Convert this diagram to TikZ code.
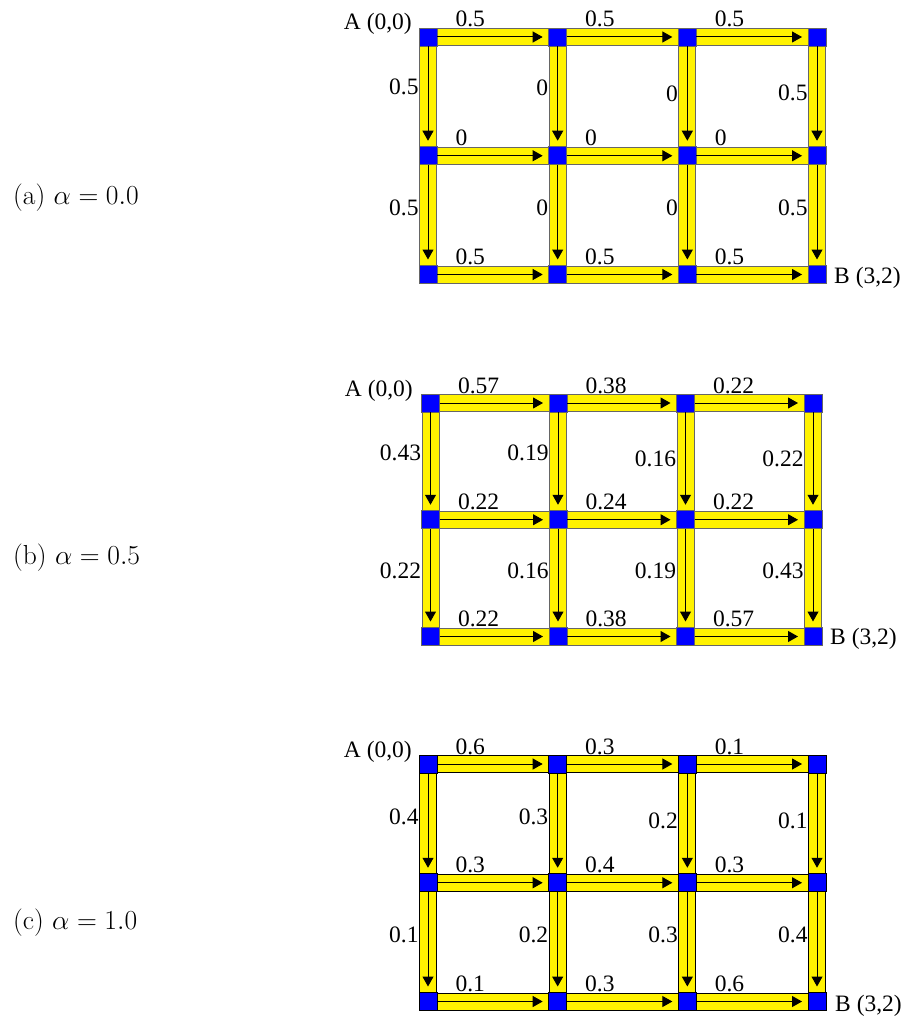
\documentclass[tikz,border=0pt]{standalone}
\usepackage{fix-cm}
\usepackage{fontspec}
\newfontfamily\gridfont{Liberation Serif}
\usetikzlibrary{arrows.meta,backgrounds}

\begin{document}
\begin{tikzpicture}[x=1pt, y=-1pt]
% Flow grids from A to B for three values of alpha
\providecommand{\gridBandColor}{yellow}
\providecommand{\gridCellColor}{blue}
\providecommand{\gridEdgeColor}{black!60}
\providecommand{\gridLabelSize}{\fontsize{23.5}{28}\selectfont}
\tikzset{
  cell/.style={draw=\gridEdgeColor, fill=\gridCellColor, line width=0.8pt, minimum size=18pt, inner sep=0pt, outer sep=0pt},
  band/.style={draw=\gridEdgeColor, line width=1pt, double=\gridBandColor, double distance=16pt},
  flow/.style={draw=black, line width=1pt, -{Triangle[length=10pt,width=11pt]}, shorten >=6pt},
  hlab/.style={font=\gridfont\gridLabelSize, pos=0, anchor=base west, xshift=18pt, yshift=10pt, inner sep=0pt},
  vlab/.style={font=\gridfont\gridLabelSize, anchor=east, xshift=-9pt, inner sep=0pt},
  corner/.style={font=\gridfont\gridLabelSize, inner sep=0pt},
  caption/.style={font=\fontsize{27.5}{33}\selectfont, anchor=west, inner sep=0pt}
}
\useasboundingbox (0,0) rectangle (908,1019);

% (a) alpha = 0.0
\begin{scope}[shift={(428,37)}, x=129.67pt, y=-118.75pt]
  % Grid points
  \node[cell] (a00) at (0,0) {}; \node[cell] (a10) at (1,0) {}; \node[cell] (a20) at (2,0) {}; \node[cell] (a30) at (3,0) {};
  \node[cell] (a01) at (0,1) {}; \node[cell] (a11) at (1,1) {}; \node[cell] (a21) at (2,1) {}; \node[cell] (a31) at (3,1) {};
  \node[cell] (a02) at (0,2) {}; \node[cell] (a12) at (1,2) {}; \node[cell] (a22) at (2,2) {}; \node[cell] (a32) at (3,2) {};
  % Bands
  \begin{pgfonlayer}{background}
    \draw[band] (a00) -- (a30);
    \draw[band] (a01) -- (a31);
    \draw[band] (a02) -- (a32);
    \draw[band] (a00) -- (a02);
    \draw[band] (a10) -- (a12);
    \draw[band] (a20) -- (a22);
    \draw[band] (a30) -- (a32);
  \end{pgfonlayer}
  % Horizontal flows
  \draw[flow] (a00) -- node[hlab] {0.5} (a10);
  \draw[flow] (a10) -- node[hlab] {0.5} (a20);
  \draw[flow] (a20) -- node[hlab] {0.5} (a30);
  \draw[flow] (a01) -- node[hlab] {0} (a11);
  \draw[flow] (a11) -- node[hlab] {0} (a21);
  \draw[flow] (a21) -- node[hlab] {0} (a31);
  \draw[flow] (a02) -- node[hlab] {0.5} (a12);
  \draw[flow] (a12) -- node[hlab] {0.5} (a22);
  \draw[flow] (a22) -- node[hlab] {0.5} (a32);
  % Vertical flows
  \draw[flow] (a00) -- node[vlab, pos=.41] {0.5} (a01);
  \draw[flow] (a10) -- node[vlab, pos=.41] {0} (a11);
  \draw[flow] (a20) -- node[vlab, pos=.47] {0} (a21);
  \draw[flow] (a30) -- node[vlab, pos=.47] {0.5} (a31);
  \draw[flow] (a01) -- node[vlab, pos=.43] {0.5} (a02);
  \draw[flow] (a11) -- node[vlab, pos=.43] {0} (a12);
  \draw[flow] (a21) -- node[vlab, pos=.43] {0} (a22);
  \draw[flow] (a31) -- node[vlab, pos=.43] {0.5} (a32);
  % End points
  \node[corner, anchor=base east] (aA) at ([xshift=-16pt, yshift=7.5pt]a00.center) {A (0,0)};
  \node[corner, anchor=base west] (aB) at ([xshift=17pt, yshift=-8.5pt]a32.center) {B (3,2)};
\end{scope}
\node[caption] (capa) at (13,198) {(a) $\alpha = 0.0$};

% (b) alpha = 0.5
\begin{scope}[shift={(430.5,403)}, x=127.5pt, y=-116.75pt]
  % Grid points
  \node[cell] (b00) at (0,0) {}; \node[cell] (b10) at (1,0) {}; \node[cell] (b20) at (2,0) {}; \node[cell] (b30) at (3,0) {};
  \node[cell] (b01) at (0,1) {}; \node[cell] (b11) at (1,1) {}; \node[cell] (b21) at (2,1) {}; \node[cell] (b31) at (3,1) {};
  \node[cell] (b02) at (0,2) {}; \node[cell] (b12) at (1,2) {}; \node[cell] (b22) at (2,2) {}; \node[cell] (b32) at (3,2) {};
  % Bands
  \begin{pgfonlayer}{background}
    \draw[band] (b00) -- (b30);
    \draw[band] (b01) -- (b31);
    \draw[band] (b02) -- (b32);
    \draw[band] (b00) -- (b02);
    \draw[band] (b10) -- (b12);
    \draw[band] (b20) -- (b22);
    \draw[band] (b30) -- (b32);
  \end{pgfonlayer}
  % Horizontal flows
  \draw[flow] (b00) -- node[hlab] {0.57} (b10);
  \draw[flow] (b10) -- node[hlab] {0.38} (b20);
  \draw[flow] (b20) -- node[hlab] {0.22} (b30);
  \draw[flow] (b01) -- node[hlab] {0.22} (b11);
  \draw[flow] (b11) -- node[hlab] {0.24} (b21);
  \draw[flow] (b21) -- node[hlab] {0.22} (b31);
  \draw[flow] (b02) -- node[hlab] {0.22} (b12);
  \draw[flow] (b12) -- node[hlab] {0.38} (b22);
  \draw[flow] (b22) -- node[hlab] {0.57} (b32);
  % Vertical flows
  \draw[flow] (b00) -- node[vlab, pos=.41] {0.43} (b01);
  \draw[flow] (b10) -- node[vlab, pos=.41] {0.19} (b11);
  \draw[flow] (b20) -- node[vlab, pos=.47] {0.16} (b21);
  \draw[flow] (b30) -- node[vlab, pos=.47] {0.22} (b31);
  \draw[flow] (b01) -- node[vlab, pos=.43] {0.22} (b02);
  \draw[flow] (b11) -- node[vlab, pos=.43] {0.16} (b12);
  \draw[flow] (b21) -- node[vlab, pos=.43] {0.19} (b22);
  \draw[flow] (b31) -- node[vlab, pos=.43] {0.43} (b32);
  % End points
  \node[corner, anchor=base east] (bA) at ([xshift=-17.5pt, yshift=7pt]b00.center) {A (0,0)};
  \node[corner, anchor=base west] (bB) at ([xshift=17pt, yshift=-7.5pt]b32.center) {B (3,2)};
\end{scope}
\node[caption] (capb) at (13,558) {(b) $\alpha = 0.5$};

% (c) alpha = 1.0
\begin{scope}[shift={(428,764)}, x=129.67pt, y=-118.75pt]
  \renewcommand{\gridEdgeColor}{black}
  % Grid points
  \node[cell] (c00) at (0,0) {}; \node[cell] (c10) at (1,0) {}; \node[cell] (c20) at (2,0) {}; \node[cell] (c30) at (3,0) {};
  \node[cell] (c01) at (0,1) {}; \node[cell] (c11) at (1,1) {}; \node[cell] (c21) at (2,1) {}; \node[cell] (c31) at (3,1) {};
  \node[cell] (c02) at (0,2) {}; \node[cell] (c12) at (1,2) {}; \node[cell] (c22) at (2,2) {}; \node[cell] (c32) at (3,2) {};
  % Bands
  \begin{pgfonlayer}{background}
    \draw[band] (c00) -- (c30);
    \draw[band] (c01) -- (c31);
    \draw[band] (c02) -- (c32);
    \draw[band] (c00) -- (c02);
    \draw[band] (c10) -- (c12);
    \draw[band] (c20) -- (c22);
    \draw[band] (c30) -- (c32);
  \end{pgfonlayer}
  % Horizontal flows
  \draw[flow] (c00) -- node[hlab] {0.6} (c10);
  \draw[flow] (c10) -- node[hlab] {0.3} (c20);
  \draw[flow] (c20) -- node[hlab] {0.1} (c30);
  \draw[flow] (c01) -- node[hlab] {0.3} (c11);
  \draw[flow] (c11) -- node[hlab] {0.4} (c21);
  \draw[flow] (c21) -- node[hlab] {0.3} (c31);
  \draw[flow] (c02) -- node[hlab] {0.1} (c12);
  \draw[flow] (c12) -- node[hlab] {0.3} (c22);
  \draw[flow] (c22) -- node[hlab] {0.6} (c32);
  % Vertical flows
  \draw[flow] (c00) -- node[vlab, pos=.44] {0.4} (c01);
  \draw[flow] (c10) -- node[vlab, pos=.44] {0.3} (c11);
  \draw[flow] (c20) -- node[vlab, pos=.47] {0.2} (c21);
  \draw[flow] (c30) -- node[vlab, pos=.47] {0.1} (c31);
  \draw[flow] (c01) -- node[vlab, pos=.43] {0.1} (c02);
  \draw[flow] (c11) -- node[vlab, pos=.43] {0.2} (c12);
  \draw[flow] (c21) -- node[vlab, pos=.43] {0.3} (c22);
  \draw[flow] (c31) -- node[vlab, pos=.43] {0.4} (c32);
  % End points
  \node[corner, anchor=base east] (cA) at ([xshift=-16pt, yshift=7pt]c00.center) {A (0,0)};
  \node[corner, anchor=base west] (cB) at ([xshift=18pt, yshift=-10pt]c32.center) {B (3,2)};
\end{scope}
\node[caption] (capc) at (13,923) {(c) $\alpha = 1.0$};
\end{tikzpicture}
\end{document}
